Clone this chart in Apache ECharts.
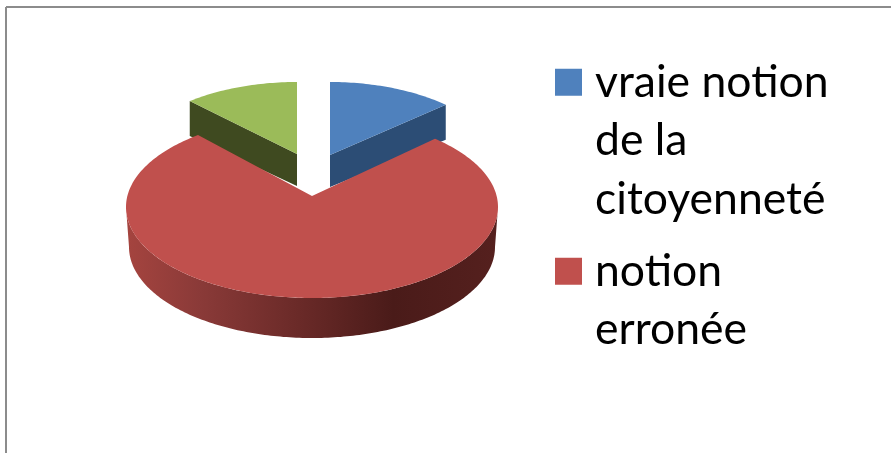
<!DOCTYPE html>
<html>
<head>
<meta charset="utf-8">
<style>
  html, body { margin: 0; padding: 0; background: #fff; }
  #chart { width: 891px; height: 453px; }
</style>
</head>
<body>
<div id="chart"></div>
<script src="https://cdn.jsdelivr.net/npm/echarts@6/dist/echarts.min.js"></script>
<script>
// donnees
const categories = ['vraie notion de la citoyenneté', 'notion erronée', 'troisième part'];
const values = [11.5, 78, 10.5];
const legendLabels = ['vraie notion\nde la\ncitoyenneté', 'notion\nerronée'];
const colors = ['#4F81BD', '#C0504D', '#9BBB59'];
const wallColors = ['#2C4D75', '#A5443F', '#3F4A20'];

// geometrie de la fausse 3D
const ry = 91, depth = 40;
const radiiX = [175, 186, 175];
const rimCenters = [[330, 173], [312, 207], [297, 173]];
const tips = [[330, 155], [312, 196], [297, 154]];
const bottomRx = 183;

const total = values.reduce((a, b) => a + b, 0);
const starts = values.map((v, i) => values.slice(0, i).reduce((a, b) => a + b, 0) / total * 360);

function rimPoint(center, deg, radiusX, dy) {
  const t = deg * Math.PI / 180;
  return [center[0] + radiusX * Math.sin(t), center[1] - ry * Math.cos(t) + (dy || 0)];
}

function arcPoints(center, from, to, radiusX, dy) {
  const pts = [];
  const n = Math.ceil(Math.abs(to - from));
  for (let k = 0; k <= n; k++) {
    pts.push(rimPoint(center, from + (to - from) * k / n, radiusX, dy));
  }
  return pts;
}

function renderSlice(i) {
  return function (params, api) {
    const from = starts[i];
    const to = from + api.value(0) / total * 360;
    const center = rimCenters[i];
    const tip = tips[i];
    const rx = radiiX[i];
    const children = [];
    if (i === 1) {
      // bord exterieur avec degrade, seulement la moitie avant
      const band = arcPoints(center, 90, 270, rx).concat(arcPoints(center, 270, 90, bottomRx, depth));
      children.push({
        type: 'polygon',
        shape: { points: band },
        style: {
          fill: new echarts.graphic.LinearGradient(126, 0, 497, 0, [
            { offset: 0, color: '#A5443F' },
            { offset: 0.2, color: '#8A3A38' },
            { offset: 0.5, color: '#662826' },
            { offset: 0.72, color: '#4A1B19' },
            { offset: 1, color: '#55201E' }
          ], true)
        },
        z2: 5
      });
    } else {
      // paroi interieure de la part sortie
      const wallDeg = i === 0 ? to : from;
      const rim = rimPoint(center, wallDeg, rx);
      children.push({
        type: 'polygon',
        shape: { points: [tip, rim, [rim[0], rim[1] + 35], [tip[0], tip[1] + 32]] },
        style: { fill: wallColors[i] },
        z2: 1
      });
    }
    const top = [tip].concat(arcPoints(center, from, to, rx));
    children.push({
      type: 'polygon',
      shape: { points: top },
      style: { fill: api.visual('color') },
      z2: i === 1 ? 6 : 2
    });
    return { type: 'group', children: children };
  };
}

// lignes vides devant le texte pour garder le carre au niveau de la premiere ligne
function legendText(name) {
  const label = legendLabels[categories.indexOf(name)];
  const lines = label.split('\n').length;
  return '\n'.repeat(lines - 1) + label;
}

const chart = echarts.init(document.getElementById('chart'));
chart.setOption({
  animation: false,
  backgroundColor: '#fff',
  legend: {
    orient: 'vertical',
    left: 555,
    top: -64,
    padding: 0,
    icon: 'rect',
    itemWidth: 27,
    itemHeight: 27,
    itemGap: -45,
    selectedMode: false,
    formatter: legendText,
    textStyle: { fontFamily: 'Lato', fontSize: 44.5, lineHeight: 58.5, color: '#000', padding: [0, 0, 0, 8] },
    data: [categories[0], categories[1]]
  },
  graphic: [
    { type: 'line', shape: { x1: 6, y1: 7, x2: 891, y2: 7 }, style: { stroke: '#8C8C8C', lineWidth: 2 }, silent: true },
    { type: 'line', shape: { x1: 6, y1: 7, x2: 6, y2: 453 }, style: { stroke: '#8C8C8C', lineWidth: 2 }, silent: true }
  ],
  series: categories.map((name, i) => ({
    type: 'custom',
    name: name,
    coordinateSystem: 'none',
    silent: true,
    itemStyle: { color: colors[i] },
    renderItem: renderSlice(i),
    data: [[values[i]]]
  }))
});
</script>
</body>
</html>
